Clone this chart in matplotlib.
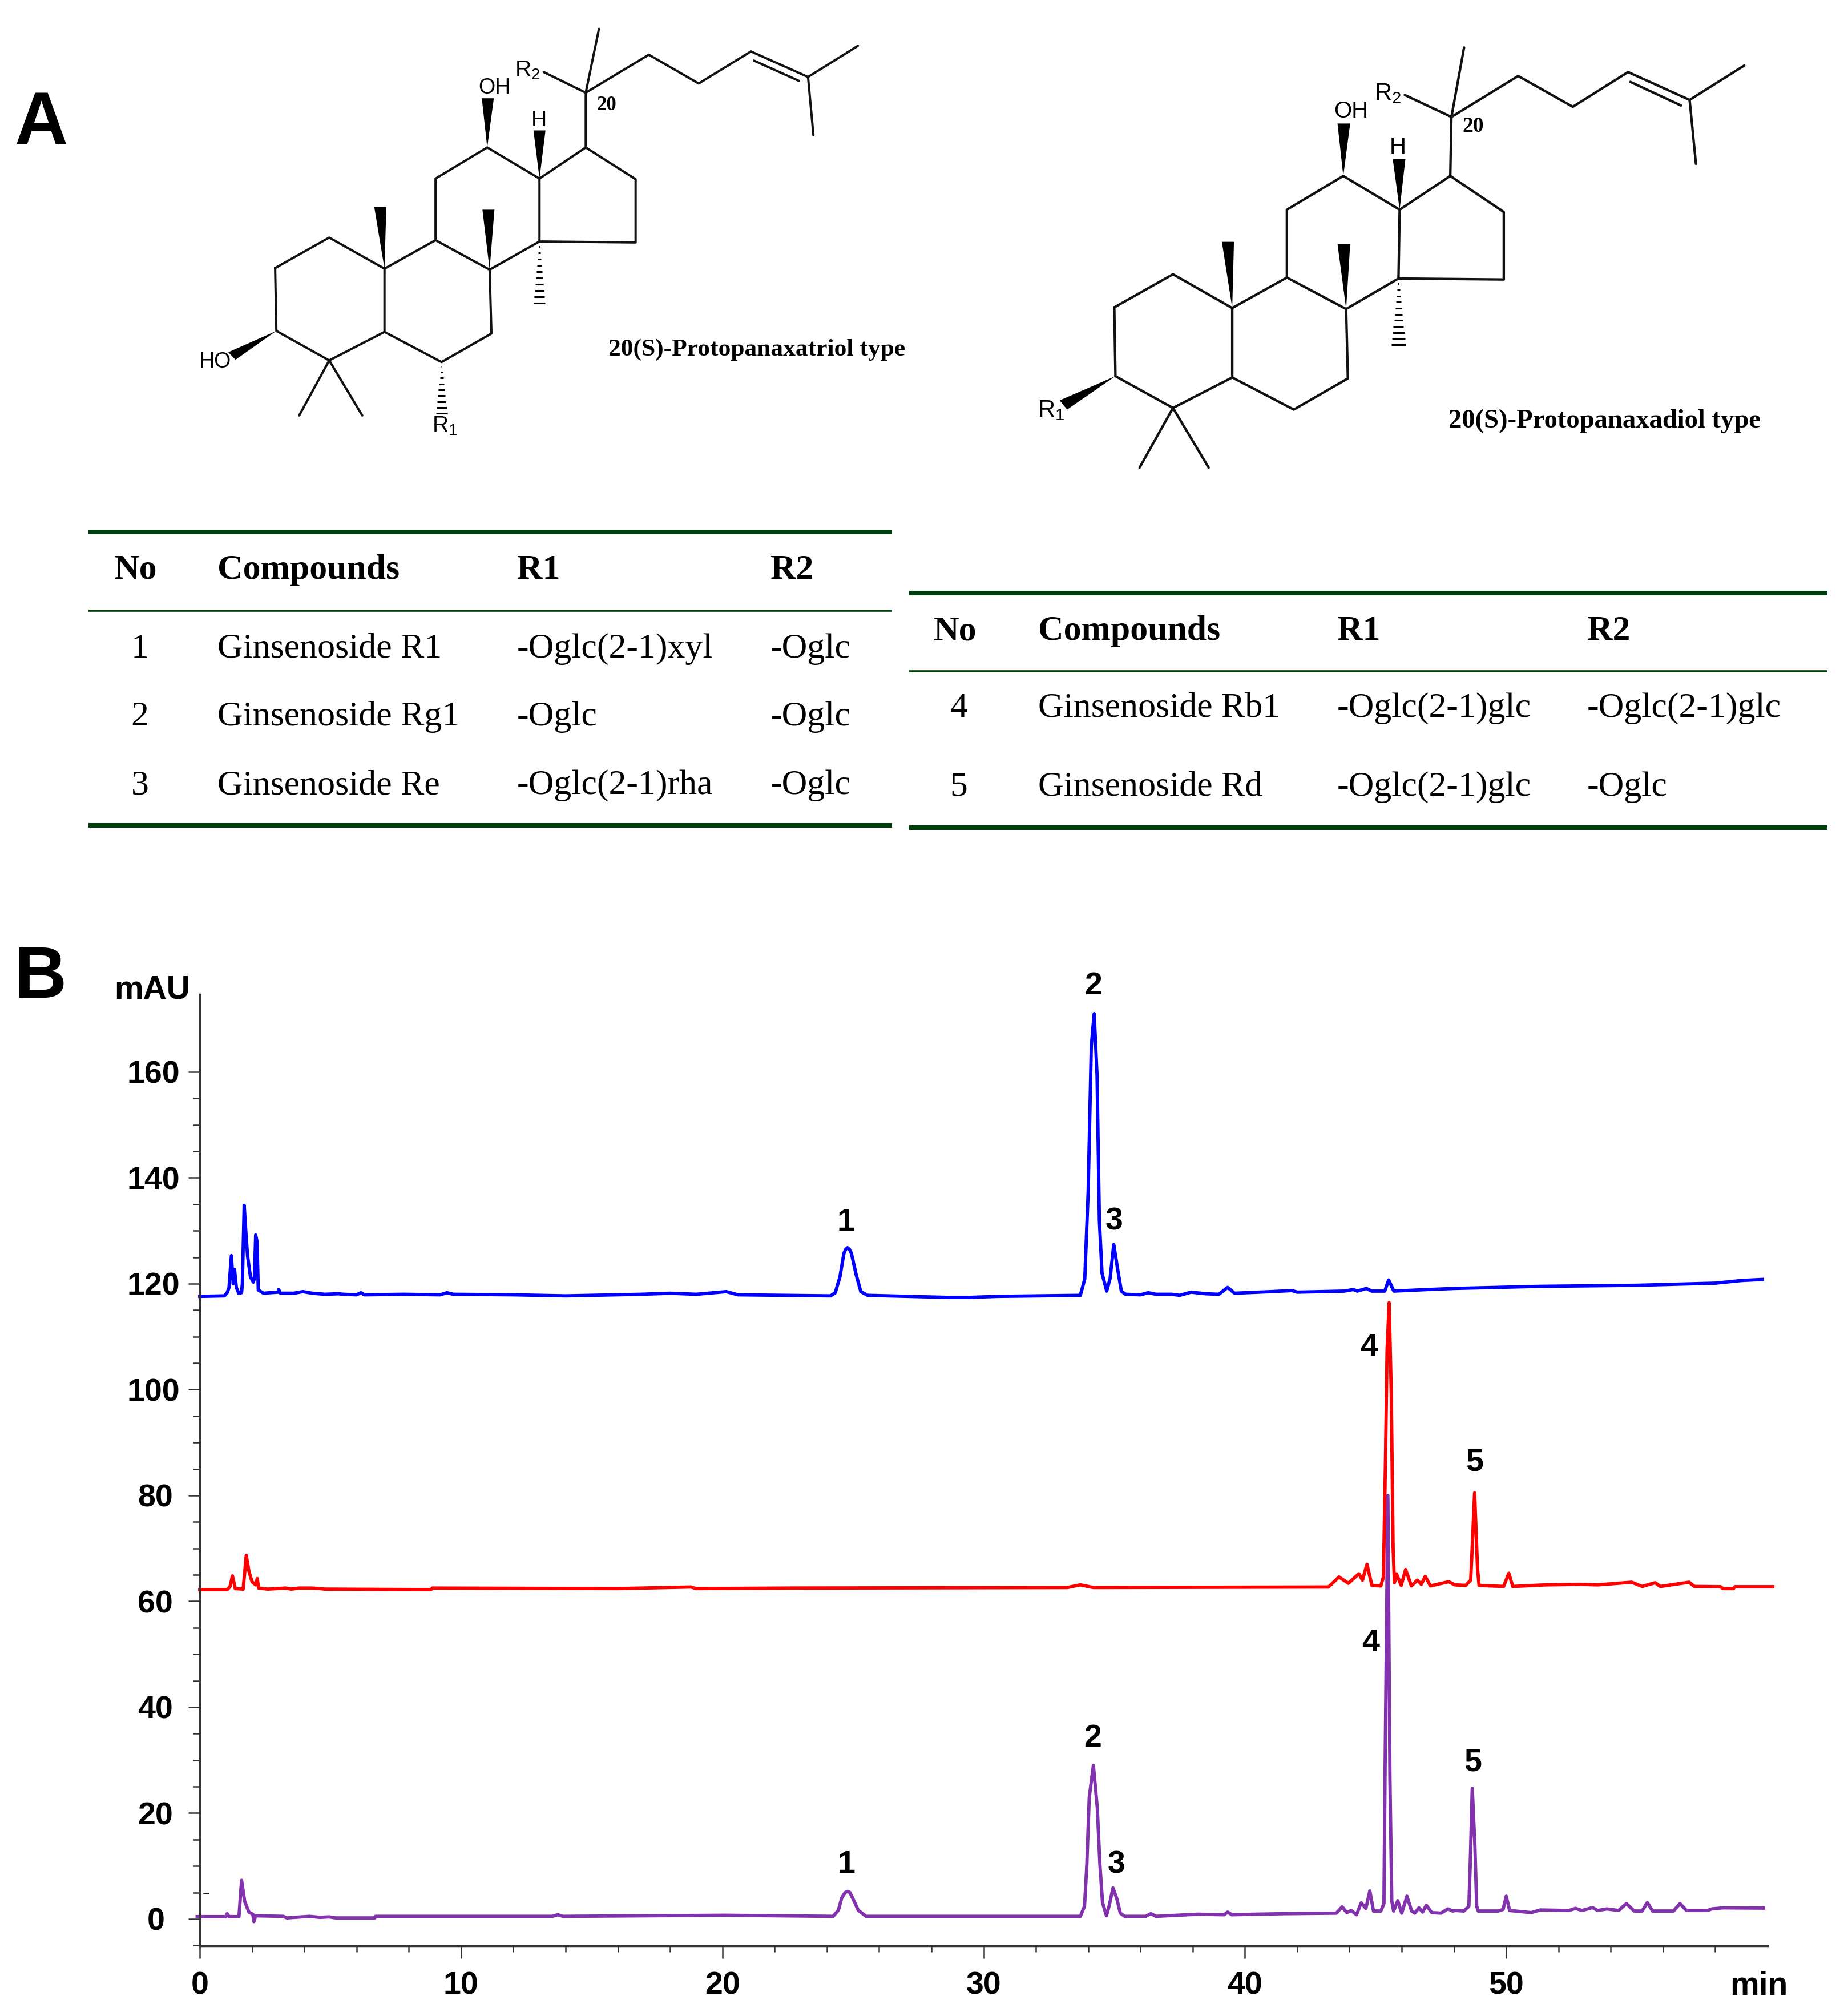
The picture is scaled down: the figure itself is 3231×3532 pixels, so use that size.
import matplotlib
matplotlib.use("Agg")
import matplotlib.pyplot as plt
import matplotlib.transforms as mtrans
import numpy as np

# chromatogram traces (min, mAU)
blue_t = [0, 0.94, 1.05, 1.12, 1.21, 1.28, 1.33, 1.40, 1.49, 1.60, 1.63, 1.70, 1.76, 1.83, 1.94, 2.05, 2.09, 2.14, 2.19, 2.24,
          2.44, 2.7, 3.0, 3.02, 3.08, 3.6, 3.95, 4.3, 4.8, 5.3, 5.5, 6.0, 6.17, 6.3, 7.8, 9.2, 9.46, 9.7, 12, 14, 16.9, 18, 19,
          20.15, 20.6, 24.14, 24.32, 24.5, 24.65, 24.72, 24.79, 24.86, 24.94, 25.12, 25.3, 25.56, 28.7, 29.4, 30.5, 33.7, 33.87, 34.0, 34.12, 34.23,
          34.34, 34.43, 34.53, 34.71, 34.84, 34.98, 35.12, 35.27, 35.43, 36.0, 36.3, 36.6, 37.2, 37.5, 37.94, 38.5, 39.0, 39.34,
          39.6, 41.0, 41.8, 42.0, 43.8, 44.15, 44.3, 44.65, 44.85, 45.35, 45.5, 45.7, 47, 48, 51.3, 55, 58, 59, 59.8]
blue_mau = [117.6, 117.7, 118.3, 119.3, 125.3, 120.0, 122.7, 119.3, 118.2, 118.3, 120.0, 134.8, 130.0, 125.2, 121.3, 120.3, 121.0, 129.2, 128.0, 118.8,
            118.2, 118.3, 118.4, 118.9, 118.2, 118.2, 118.5, 118.2, 118.0, 118.1, 118.0, 117.9, 118.3, 117.9, 118.0, 117.9, 118.3, 118.0, 117.9, 117.7, 118.0, 118.2, 118.0,
            118.5, 117.9, 117.7, 118.3, 121.3, 125.7, 126.5, 126.8, 126.5, 125.7, 121.7, 118.5, 117.8, 117.4, 117.4, 117.6, 117.8, 120.9, 137.4, 164.9, 171.0,
            159.4, 131.9, 122.0, 118.6, 121.0, 127.4, 123.0, 118.6, 118.0, 117.9, 118.3, 118.0, 118.0, 117.8, 118.4, 118.1, 118.0, 119.3,
            118.2, 118.5, 118.7, 118.4, 118.6, 118.9, 118.6, 119.1, 118.6, 118.6, 120.7, 118.6, 118.9, 119.1, 119.5, 119.7, 120.1, 120.6, 120.8]

red_t = [0, 1.05, 1.16, 1.25, 1.36, 1.66, 1.78, 1.88, 2.0, 2.14, 2.2, 2.25, 2.6, 3.28, 3.5, 3.8, 4.28, 4.6, 4.8, 8.85, 8.9, 16, 18.8, 19, 22.5,
         33.2, 33.7, 34.2, 43.2, 43.6, 43.96, 44.36, 44.5, 44.67, 44.86, 45.2, 45.3, 45.38, 45.44, 45.52, 45.6, 45.67, 45.72,
         45.8, 45.98, 46.15, 46.37, 46.6, 46.75, 46.9, 47.1, 47.8, 48.03, 48.45, 48.64, 48.7, 48.79, 48.9, 48.96, 49.9, 50.1, 50.25,
         51.5, 52.8, 53.5, 54.8, 55.2, 55.7, 55.9, 57, 57.2, 58.2, 58.3, 58.7, 58.75, 60.2]
red_mau = [62.2, 62.2, 62.8, 64.8, 62.4, 62.3, 68.7, 65.7, 63.7, 63.1, 64.3, 62.5, 62.3, 62.5, 62.3, 62.5, 62.5, 62.4, 62.3, 62.2, 62.5, 62.4, 62.7, 62.4, 62.5,
           62.6, 63.1, 62.6, 62.7, 64.6, 63.4, 65.2, 64.0, 67.0, 63.0, 62.9, 64.6, 86.9, 107.5, 116.4, 99.3, 70.4, 63.5,
           65.2, 63.0, 66.0, 62.9, 64.0, 63.2, 64.7, 62.9, 63.7, 63.1, 63.0, 64.0, 70.4, 80.5, 66.3, 63.0, 62.8, 65.3, 62.8,
           63.1, 63.2, 63.1, 63.6, 62.8, 63.5, 62.8, 63.6, 62.8, 62.75, 62.4, 62.4, 62.75, 62.75]

purple_t = [-0.1, 1.0, 1.05, 1.12, 1.5, 1.6, 1.72, 1.88, 2.03, 2.07, 2.14, 3.2, 3.33, 4.2, 4.6, 4.95, 5.2, 6.7, 6.73, 13.5, 13.7, 13.9, 20.1, 24.24, 24.44, 24.57,
            24.7, 24.79, 24.88, 25.0, 25.2, 25.5, 33.7, 33.86, 33.95, 34.04, 34.2, 34.35, 34.45, 34.55, 34.7, 34.8, 34.95, 35.1, 35.23, 35.4, 36.2, 36.4, 36.6, 38.2,
            39.2, 39.34, 39.5, 40.4, 41.5, 43.5, 43.72, 43.9, 44.07, 44.27, 44.45, 44.63, 44.78, 44.92, 45.2, 45.32, 45.36, 45.47, 45.55, 45.62, 45.69,
            45.85, 46.0, 46.2, 46.38, 46.5, 46.66, 46.8, 46.94, 47.15, 47.5, 47.77, 47.95, 48.06, 48.38, 48.57, 48.62, 48.7, 48.8, 48.87, 48.93, 49.69, 49.88,
            50.0, 50.13, 50.96, 51.3, 52.4, 52.65, 52.9, 53.3, 53.5, 53.85, 54.3, 54.6, 54.9, 55.2, 55.4, 55.6, 56.4, 56.65, 56.9, 57.7, 57.87, 58.3, 59.84]
purple_mau = [0.45, 0.45, 1.0, 0.45, 0.45, 7.3, 3.3, 1.3, 0.9, -0.5, 0.6, 0.5, 0.2, 0.5, 0.3, 0.4, 0.2, 0.2, 0.5, 0.5, 0.8, 0.5, 0.7, 0.5, 1.65, 4.0,
              5.0, 5.2, 5.0, 3.8, 1.65, 0.5, 0.5, 2.4, 10.3, 22.9, 29.0, 21.0, 10.3, 3.1, 0.6, 2.4, 5.85, 3.8, 1.1, 0.5, 0.5, 1.0, 0.5, 0.9,
              0.8, 1.3, 0.8, 0.9, 1.0, 1.1, 2.3, 1.2, 1.6, 0.8, 3.05, 2.0, 5.3, 1.5, 1.5, 2.9, 26.4, 80.0, 26.4, 3.4, 1.5,
              3.45, 1.1, 4.3, 1.5, 1.1, 2.1, 1.3, 2.6, 1.2, 1.1, 1.9, 1.5, 1.6, 1.5, 2.4, 10.0, 24.7, 14.0, 2.4, 1.5, 1.5, 1.8,
              4.3, 1.6, 1.2, 1.7, 1.6, 2.0, 1.6, 2.15, 1.6, 1.9, 1.6, 2.9, 1.5, 1.5, 3.1, 1.5, 1.5, 2.9, 1.6, 1.6, 1.9, 2.1, 2.05]

# peak numbers
peak_labels = ["1", "2", "3", "4", "5", "4", "5", "1", "2", "3"]
peak_t = [24.73, 34.2, 35.0, 44.74, 48.78, 44.8, 48.72, 24.75, 34.17, 35.08]
peak_mau = [131.5, 176.2, 131.7, 107.9, 86.2, 52.1, 29.5, 10.2, 34.1, 10.2]

# tables
table_head = ["No", "Compounds", "R1", "R2"]
table1_no = ["1", "2", "3"]
table1_names = ["Ginsenoside R1", "Ginsenoside Rg1", "Ginsenoside Re"]
table1_r1 = ["-Oglc(2-1)xyl", "-Oglc", "-Oglc(2-1)rha"]
table1_r2 = ["-Oglc", "-Oglc", "-Oglc"]
table2_no = ["4", "5"]
table2_names = ["Ginsenoside Rb1", "Ginsenoside Rd"]
table2_r1 = ["-Oglc(2-1)glc", "-Oglc(2-1)glc"]
table2_r2 = ["-Oglc(2-1)glc", "-Oglc"]

W, H = 3231, 3532
GREEN = "#003d0f"
SANS = "Liberation Sans"
SERIF = "Liberation Serif"

fig = plt.figure(figsize=(W / 100, H / 100), dpi=100, facecolor="white")

# whole-figure axes in pixels for the drawings and the tables
bg = fig.add_axes([0, 0, 1, 1])
bg.set_xlim(0, W)
bg.set_ylim(H, 0)
bg.axis("off")


def bonds(chains, sx, sy, ox, lw):
    for chain in chains:
        xs = [ox + p[0] / sx for p in chain]
        ys = [p[1] / sy for p in chain]
        bg.plot(xs, ys, color="#111111", lw=lw, solid_joinstyle="round", solid_capstyle="round")


def wedge(tip, a, b, sx, sy, ox):
    pts = [(ox + p[0] / sx, p[1] / sy) for p in (tip, a, b)]
    bg.fill([p[0] for p in pts], [p[1] for p in pts], color="black", lw=0)


def hash_bond(tip, end, width, n, sx, sy, ox):
    x0, y0 = ox + tip[0] / sx, tip[1] / sy
    x1, y1 = ox + end[0] / sx, end[1] / sy
    for f in np.linspace(0.08, 1, n):
        x, y = x0 + (x1 - x0) * f, y0 + (y1 - y0) * f
        hw = width / 2 * f
        bg.plot([x - hw, x + hw], [y, y], color="black", lw=2.2, solid_capstyle="butt")


# left structure
SX1, SY1, OX1 = 0.95, 1.742, 0
bonds([
    [(458, 818), (548, 725), (640, 820), (640, 1013), (548, 1100), (460, 1010), (458, 818)],
    [(640, 820), (725, 733), (815, 823), (818, 1018), (735, 1105), (640, 1013)],
    [(725, 733), (725, 545), (811, 450), (898, 545), (898, 737), (815, 823)],
    [(898, 545), (975, 450), (1058, 547), (1058, 740), (898, 737)],
    [(975, 450), (975, 283), (997, 88)],
    [(905, 220), (975, 283), (1080, 167), (1163, 255), (1250, 157), (1345, 235), (1428, 140)],
    [(1255, 185), (1330, 247)],
    [(1345, 235), (1354, 413)],
    [(498, 1268), (548, 1100), (603, 1268)],
], SX1, SY1, OX1, 2.9)
wedge((811, 450), (802, 300), (822, 300), SX1, SY1, OX1)
wedge((898, 545), (888, 398), (908, 398), SX1, SY1, OX1)
wedge((640, 820), (623, 632), (643, 632), SX1, SY1, OX1)
wedge((815, 823), (803, 640), (823, 640), SX1, SY1, OX1)
wedge((460, 1010), (380, 1075), (392, 1098), SX1, SY1, OX1)
hash_bond((898, 737), (898, 925), 20, 10, SX1, SY1, OX1)
hash_bond((735, 1105), (735, 1262), 20, 9, SX1, SY1, OX1)
for txt, x, y in [("OH", 823, 268), ("H", 897, 367), ("HO", 358, 1105)]:
    bg.text(x / SX1, y / SY1, txt, family=SANS, fontsize=27, ha="center", va="center")
bg.text(878 / SX1, 215 / SY1, r"R$\mathregular{_2}$", family=SANS, fontsize=28, ha="center", va="center")
bg.text(740 / SX1, 1300 / SY1, r"R$\mathregular{_1}$", family=SANS, fontsize=28, ha="center", va="center")
bg.text(1010 / SX1, 322 / SY1, "20", family=SERIF, fontsize=25, weight="bold", ha="center", va="center")
bg.text(1326, 613, "20(S)-Protopanaxatriol type", family=SERIF, fontsize=31.3, weight="bold", ha="center", va="center")

# right structure
SX2, SY2, OX2 = 0.992, 1.742, 1650
bonds([
    [(300, 938), (402, 837), (505, 940), (505, 1152), (402, 1245), (302, 1148), (300, 938)],
    [(505, 940), (600, 847), (703, 943), (706, 1155), (612, 1250), (505, 1152)],
    [(600, 847), (600, 640), (698, 537), (796, 640), (794, 850), (703, 943)],
    [(796, 640), (884, 537), (977, 647), (977, 853), (794, 850)],
    [(884, 537), (886, 357), (908, 145)],
    [(805, 290), (886, 357), (1002, 232), (1097, 326), (1193, 220), (1300, 305), (1395, 200)],
    [(1197, 250), (1285, 322)],
    [(1300, 305), (1311, 500)],
    [(344, 1427), (402, 1245), (464, 1427)],
], SX2, SY2, OX2, 3.1)
wedge((698, 537), (688, 377), (710, 377), SX2, SY2, OX2)
wedge((796, 640), (784, 485), (806, 485), SX2, SY2, OX2)
wedge((505, 940), (487, 738), (508, 738), SX2, SY2, OX2)
wedge((703, 943), (688, 745), (710, 745), SX2, SY2, OX2)
wedge((302, 1148), (205, 1222), (218, 1250), SX2, SY2, OX2)
hash_bond((794, 850), (794, 1052), 25, 11, SX2, SY2, OX2)
for txt, x, y in [("OH", 712, 340), ("H", 793, 450)]:
    bg.text(OX2 + x / SX2, y / SY2, txt, family=SANS, fontsize=29, ha="center", va="center")
bg.text(OX2 + 775 / SX2, 285 / SY2, r"R$\mathregular{_2}$", family=SANS, fontsize=30, ha="center", va="center")
bg.text(OX2 + 190 / SX2, 1252 / SY2, r"R$\mathregular{_1}$", family=SANS, fontsize=30, ha="center", va="center")
bg.text(OX2 + 924 / SX2, 385 / SY2, "20", family=SERIF, fontsize=27, weight="bold", ha="center", va="center")
bg.text(2811, 738, "20(S)-Protopanaxadiol type", family=SERIF, fontsize=33.6, weight="bold", ha="center", va="center")

# panel letters
bg.text(72, 252, "A", family=SANS, fontsize=93, weight="bold", ha="center", va="baseline")
bg.text(71, 1748, "B", family=SANS, fontsize=92, weight="bold", ha="center", va="baseline")


def draw_table(x0, x1, rules, head_y, row_ys, no_x, no_c, name_x, r1_x, r2_x, nos, names, r1, r2):
    for y, lw in zip(rules, (5.8, 2.6, 5.8)):
        bg.plot([x0, x1], [y, y], color=GREEN, lw=lw, solid_capstyle="butt")
    for txt, x in zip(table_head, (no_x, name_x, r1_x, r2_x)):
        bg.text(x, head_y, txt, family=SERIF, fontsize=44.5, weight="bold", va="baseline")
    for i, y in enumerate(row_ys):
        bg.text(no_c, y, nos[i], family=SERIF, fontsize=44.6, ha="center", va="baseline")
        bg.text(name_x, y, names[i], family=SERIF, fontsize=44.6, va="baseline")
        bg.text(r1_x, y, r1[i], family=SERIF, fontsize=44.6, va="baseline")
        bg.text(r2_x, y, r2[i], family=SERIF, fontsize=44.6, va="baseline")


draw_table(155, 1556 + 7, (932, 1070, 1446), 1014, (1152, 1271, 1391), 200, 245, 381, 906, 1350,
           table1_no, table1_names, table1_r1, table1_r2)
draw_table(1588 + 5, 3190 + 12, (1039, 1176, 1450), 1121, (1256, 1394), 1636, 1680, 1819, 2343, 2781,
           table2_no, table2_names, table2_r1, table2_r2)

# chromatogram
ax = fig.add_axes([350 / W, 1 - 3409 / H, (3097 - 350) / W, (3409 - 1742) / H])
ax.patch.set_alpha(0)
ax.set_xlim(0, 60)
ax.set_ylim(-5.07, 174.66)

ax.plot(blue_t, blue_mau, color="#0000ff", lw=4.2, clip_on=False, solid_joinstyle="round")
ax.plot(red_t, red_mau, color="#ff0000", lw=4.2, clip_on=False, solid_joinstyle="round")
ax.plot(purple_t, purple_mau, color="#8232ac", lw=4.2, clip_on=False, solid_joinstyle="round")

for label, t, y in zip(peak_labels, peak_t, peak_mau):
    ax.text(t, y, label, family=SANS, fontsize=40, weight="bold", ha="center", va="center")

for side in ("top", "right"):
    ax.spines[side].set_visible(False)
for side in ("left", "bottom"):
    ax.spines[side].set_linewidth(2.5)
    ax.spines[side].set_color("#333333")

ax.set_xticks(np.arange(0, 51, 10))
ax.set_xticks([t for t in range(2, 60, 2) if t % 10], minor=True)
ax.set_yticks(np.arange(0, 161, 20))
ax.set_yticks([v for v in range(-5, 160, 5) if v % 20], minor=True)
ax.tick_params(axis="x", which="major", length=16, width=1.8, color="#333333", pad=16, labelsize=40)
ax.tick_params(axis="y", which="major", length=14.4, width=1.8, color="#333333", pad=11, labelsize=40)
ax.tick_params(axis="x", which="minor", length=7.6, width=1.8, color="#333333")
ax.tick_params(axis="y", which="minor", length=8.6, width=1.8, color="#333333")
for lab in ax.get_xticklabels() + ax.get_yticklabels():
    lab.set_family(SANS)
    lab.set_weight("bold")

# the shorter y labels sit further left of the ticks, as in the original
for lab, val in zip(ax.get_yticklabels(), ax.get_yticks()):
    dx = -26 if val == 0 else (-12 if val < 100 else 0)
    lab.set_transform(lab.get_transform() + mtrans.ScaledTranslation(dx / 100, 0, fig.dpi_scale_trans))

bg.text(267, 1750, "mAU", family=SANS, fontsize=41, weight="bold", ha="center", va="baseline")
bg.text(3082, 3495, "min", family=SANS, fontsize=41, weight="bold", ha="center", va="baseline")
# stray dash next to the axis
bg.plot([357, 365], [3317, 3317], color="#222222", lw=1.8)

fig.savefig("out.png", dpi=100)
